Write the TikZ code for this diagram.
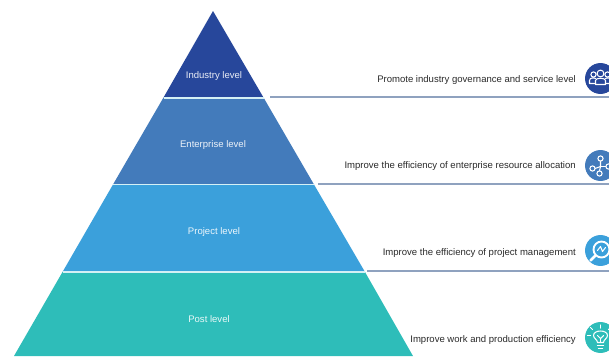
\documentclass[tikz,border=0pt]{standalone}
\usepackage{fontspec}
\setmainfont{Liberation Sans}
\usepackage{tikz}
\usetikzlibrary{%
	calc,%
	positioning
}
\definecolor{industryblue}{HTML}{27479B}
\definecolor{enterpriseblue}{HTML}{437BBB}
\definecolor{projectblue}{HTML}{3BA0DB}
\definecolor{postgreen}{HTML}{2EBDB9}
\definecolor{gapcyan}{HTML}{D5F0F5}
\definecolor{rulegray}{HTML}{8FA2BF}
\definecolor{goaltext}{HTML}{2A2A2A}
\tikzset{
	levellabel/.style={text=white, font=\fontsize{8.15}{9}\selectfont, inner sep=0pt, opacity=0.9},
	goallabel/.style={text=goaltext, font=\fontsize{8.15}{9}\selectfont, inner sep=0pt, anchor=east},
	goalrule/.style={rulegray, line width=0.9pt},
	gapline/.style={gapcyan, line width=1.1pt},
	icondisc/.style={circle, minimum size=26.4pt, inner sep=0pt},
	iconline/.style={white, line width=0.9pt, line cap=round, line join=round}
}

\begin{document}
\begin{tikzpicture}[x=0.03cm, y=-0.03cm]
	
	\clip (0,0) rectangle (609,356);
	\fill[white] (0,0) rectangle (609,356);
	
	\fill[industryblue] (213,11) -- (263.5,97.5) -- (163.5,97.5) -- cycle;
	\fill[enterpriseblue] (163.5,97.5) -- (263.5,97.5) -- (314,184.5) -- (113,184.5) -- cycle;
	\fill[projectblue] (113,184.5) -- (314,184.5) -- (365,272) -- (62.5,272) -- cycle;
	\fill[postgreen] (62.5,272) -- (365,272) -- (413,356) -- (14,356) -- cycle;
	
	\draw[gapline] (163.5,98) -- (263.5,98);
	\draw[gapline] (113,184.5) -- (314,184.5);
	\draw[gapline] (62.5,272) -- (365,272);
	
	\node[levellabel] (industry) at (214,76.5) {Industry level};
	\node[levellabel] (enterprise) at (213,145.5) {Enterprise level};
	\node[levellabel] (project) at (214,232.5) {Project level};
	\node[levellabel] (post) at (209,319.5) {Post level};
	
	\node[goallabel] (goalindustry) at (576,80.5) {Promote industry governance and service level};
	\node[goallabel] (goalenterprise) at (576,166.5) {Improve the efficiency of enterprise resource allocation};
	\node[goallabel] (goalproject) at (576,253.5) {Improve the efficiency of project management};
	\node[goallabel] (goalpost) at (576,340.5) {Improve work and production efficiency};
	
	\coordinate (ruleastart) at (270,97);
	\coordinate (ruleaend) at (609,97);
	\coordinate (rulebstart) at (318,184);
	\coordinate (rulebend) at (609,184);
	\coordinate (rulecstart) at (367,271);
	\coordinate (rulecend) at (609,271);
	\draw[goalrule] (ruleastart) -- (ruleaend);
	\draw[goalrule] (rulebstart) -- (rulebend);
	\draw[goalrule] (rulecstart) -- (rulecend);
	
	\node[icondisc, fill=industryblue] (iconindustry) at (600.5,78.5) {};
	\node[icondisc, fill=enterpriseblue] (iconenterprise) at (600.5,165.5) {};
	\node[icondisc, fill=projectblue] (iconproject) at (600.5,250.5) {};
	\node[icondisc, fill=postgreen] (iconpost) at (600.5,337.5) {};
	
	\begin{scope}[shift={(iconindustry.center)}, iconline]
		\draw (0,-5) circle (3.4);
		\draw (-7,-4) circle (2.6);
		\draw (7,-4) circle (2.6);
		\draw (-5,6) -- (-5,2) .. controls (-5,-1) and (5,-1) .. (5,2) -- (5,6) -- cycle;
		\draw (-6,5) -- (-11,5) -- (-11,2) .. controls (-11,-1) and (-6,-1) .. (-5,0);
		\draw (6,5) -- (11,5) -- (11,2) .. controls (11,-1) and (6,-1) .. (5,0);
	\end{scope}
	
	\begin{scope}[shift={(iconenterprise.center)}, iconline]
		\draw (0,-7) circle (2.6);
		\draw (-8,3) circle (2.6);
		\draw (-1,8) circle (2.6);
		\draw (8,1) circle (2.6);
		\draw (0,-4.4) -- (0,1) -- (-1,5.4);
		\draw (0,1) -- (-5.4,3);
		\draw (0,1) -- (5.4,1);
	\end{scope}
	
	\begin{scope}[shift={(iconproject.center)}, iconline]
		\draw[line width=1.6pt] (1,-1) circle (8);
		\draw[line width=2.2pt] (-5,5) -- (-10,10);
		\draw (-3,0) -- (0,-4) -- (2,1) -- (5,-3);
	\end{scope}
	
	\begin{scope}[shift={(iconpost.center)}, iconline]
		\draw (-3,5) .. controls (-3,2) and (-7,1) .. (-7,-2) .. controls (-7,-8) and (7,-8) .. (7,-2) .. controls (7,1) and (3,2) .. (3,5) -- cycle;
		\draw (-3,8) -- (3,8);
		\draw (-2,11) -- (2,11);
		\draw (0,-9.5) -- (0,-12.5);
		\draw (-8,-8) -- (-10,-10);
		\draw (8,-8) -- (10,-10);
		\draw (-10,-2) -- (-13,-2);
		\draw (-3,-2) -- (0,1) -- (3,-2);
		\draw (0,1) -- (0,5);
	\end{scope}
	
\end{tikzpicture}
\end{document}
